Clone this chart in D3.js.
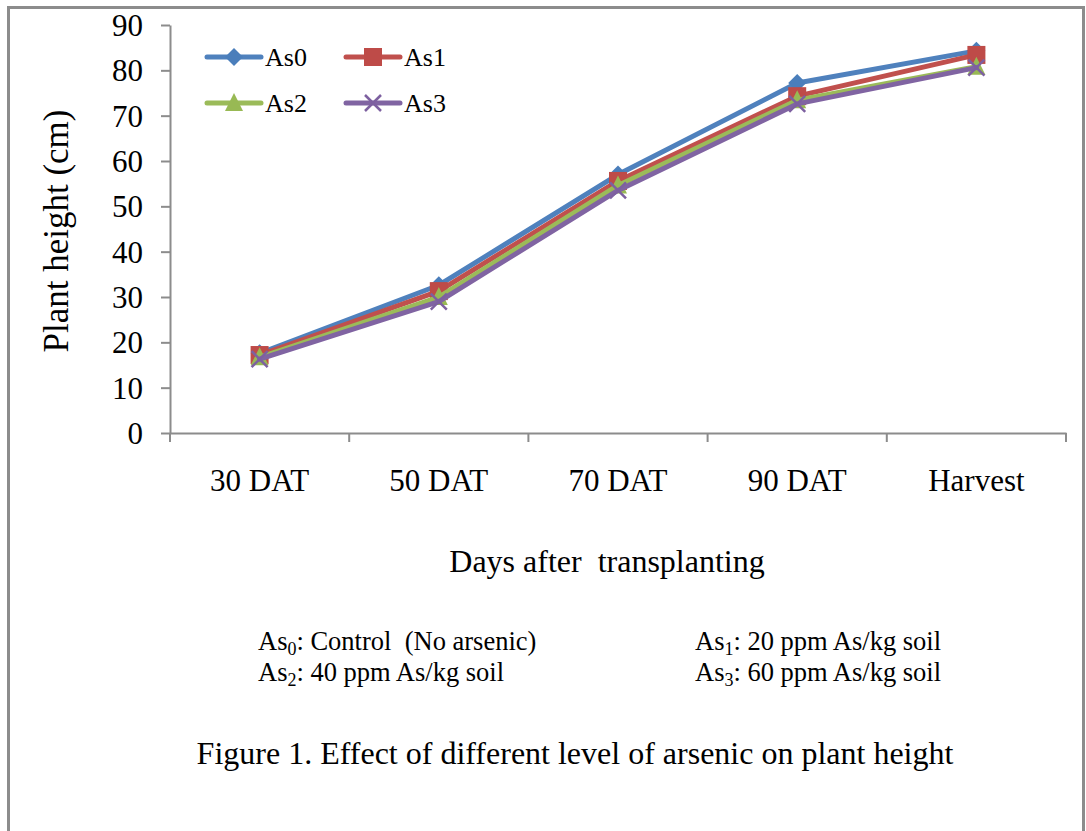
<!DOCTYPE html>
<html>
<head>
<meta charset="utf-8">
<script src="https://cdn.jsdelivr.net/npm/d3@7"></script>
<style>
  body { margin: 0; background: #fff; }
  text { font-family: "Liberation Serif", "Times New Roman", serif; fill: #000; }
</style>
</head>
<body>
<div id="chart"></div>
<script>
var categories = ["30 DAT", "50 DAT", "70 DAT", "90 DAT", "Harvest"];
var seriesNames = ["As0", "As1", "As2", "As3"];
var as0 = [17.6, 32.6, 57.0, 77.2, 84.3];
var as1 = [17.2, 31.3, 55.6, 74.3, 83.4];
var as2 = [16.7, 30.0, 54.6, 73.4, 80.8];
var as3 = [16.3, 29.0, 53.5, 72.6, 80.6];
var yTicks = [0, 10, 20, 30, 40, 50, 60, 70, 80, 90];

var seriesValues = [as0, as1, as2, as3];
var colors = ["#4F81BD", "#C0504D", "#9BBB59", "#8064A2"];
var markerColors = ["#4A7EBB", "#BE4B48", "#98B954", "#7D60A0"];

var svgWidth = 1086;
var svgHeight = 831;

var svg = d3.select("#chart")
  .append("svg")
  .attr("width", svgWidth)
  .attr("height", svgHeight);

// outer frame
svg.append("rect")
  .attr("x", 8.5)
  .attr("y", 7.5)
  .attr("width", 1075)
  .attr("height", 840)
  .attr("fill", "none")
  .attr("stroke", "#8c8c8c")
  .attr("stroke-width", 3);

var plotLeft = 170, plotRight = 1066, plotTop = 25, plotBottom = 433;

var xBand = d3.scaleBand()
  .domain(categories)
  .range([plotLeft, plotRight])
  .padding(0);

var yScale = d3.scaleLinear()
  .domain([0, 90])
  .range([plotBottom, plotTop]);

var x = d => xBand(d) + xBand.bandwidth() / 2;

// y axis
var yAxis = svg.append("g")
  .attr("transform", `translate(${plotLeft},0)`)
  .call(d3.axisLeft(yScale).tickValues(yTicks).tickSize(9).tickPadding(18).tickSizeOuter(0));
yAxis.selectAll("text").style("font-size", "31px").attr("dy", "0.34em");

// x axis with boundary ticks
var xAxis = svg.append("g")
  .attr("transform", `translate(0,${plotBottom})`)
  .call(d3.axisBottom(xBand).tickSize(0).tickPadding(36));
xAxis.selectAll("text").style("font-size", "31px");
var bounds = categories.map(c => xBand(c)).concat([plotRight]);
xAxis.selectAll(".bound")
  .data(bounds)
  .enter()
  .append("line")
  .attr("x1", d => d).attr("x2", d => d)
  .attr("y1", 0).attr("y2", 9)
  .attr("stroke", "#8c8c8c")
  .attr("stroke-width", 2);

svg.selectAll(".domain, .tick line")
  .attr("stroke", "#8c8c8c")
  .attr("stroke-width", 2);

// axis titles
svg.append("text")
  .attr("transform", "translate(68,231) rotate(-90)")
  .attr("text-anchor", "middle")
  .style("font-size", "35px")
  .text("Plant height (cm)");

svg.append("text")
  .attr("x", 607)
  .attr("y", 572)
  .attr("text-anchor", "middle")
  .style("font-size", "32px")
  .attr("xml:space", "preserve")
  .text("Days after  transplanting");

// markers
function drawMarker(g, i, cx, cy) {
  if (i === 0) {
    g.append("path")
      .attr("d", `M${cx},${cy - 9}L${cx + 9},${cy}L${cx},${cy + 9}L${cx - 9},${cy}Z`)
      .attr("fill", markerColors[0]);
  } else if (i === 1) {
    g.append("rect")
      .attr("x", cx - 9).attr("y", cy - 9)
      .attr("width", 18).attr("height", 18)
      .attr("fill", markerColors[1]);
  } else if (i === 2) {
    g.append("path")
      .attr("d", `M${cx},${cy - 10}L${cx + 9},${cy + 8}L${cx - 9},${cy + 8}Z`)
      .attr("fill", markerColors[2]);
  } else {
    g.append("path")
      .attr("d", `M${cx - 8},${cy - 8}L${cx + 8},${cy + 8}M${cx + 8},${cy - 8}L${cx - 8},${cy + 8}`)
      .attr("stroke", markerColors[3])
      .attr("stroke-width", 2.5)
      .attr("fill", "none");
  }
}

var line = d3.line()
  .x((d, j) => x(categories[j]))
  .y(d => yScale(d));

seriesValues.forEach(function (vals, i) {
  var g = svg.append("g");
  g.append("path")
    .datum(vals)
    .attr("d", line)
    .attr("fill", "none")
    .attr("stroke", colors[i])
    .attr("stroke-width", 5)
    .attr("stroke-linejoin", "round")
    .attr("stroke-linecap", "round");
  vals.forEach(function (v, j) {
    drawMarker(g, i, x(categories[j]), yScale(v));
  });
});

// legend
var legendPos = [[207, 57], [346, 57], [207, 103], [346, 103]];
seriesNames.forEach(function (name, i) {
  var lx = legendPos[i][0], ly = legendPos[i][1];
  var g = svg.append("g");
  g.append("line")
    .attr("x1", lx).attr("x2", lx + 54)
    .attr("y1", ly).attr("y2", ly)
    .attr("stroke", colors[i])
    .attr("stroke-width", 5)
    .attr("stroke-linecap", "round");
  drawMarker(g, i, lx + 27, ly);
  g.append("text")
    .attr("x", lx + 58)
    .attr("y", ly + 9)
    .style("font-size", "26px")
    .text(name);
});

// treatment notes
var notes = [
  { x: 258, y: 650, sub: "0", rest: ": Control  (No arsenic)" },
  { x: 695, y: 650, sub: "1", rest: ": 20 ppm As/kg soil" },
  { x: 258, y: 681, sub: "2", rest: ": 40 ppm As/kg soil" },
  { x: 695, y: 681, sub: "3", rest: ": 60 ppm As/kg soil" }
];
notes.forEach(function (n) {
  var t = svg.append("text")
    .attr("x", n.x)
    .attr("y", n.y)
    .attr("xml:space", "preserve")
    .style("font-size", "26.5px");
  t.append("tspan").text("As");
  t.append("tspan").attr("dy", 5).style("font-size", "18px").text(n.sub);
  t.append("tspan").attr("dy", -5).text(n.rest);
});

svg.append("text")
  .attr("x", 575)
  .attr("y", 764)
  .attr("text-anchor", "middle")
  .style("font-size", "32px")
  .text("Figure 1. Effect of different level of arsenic on plant height");
</script>
</body>
</html>
